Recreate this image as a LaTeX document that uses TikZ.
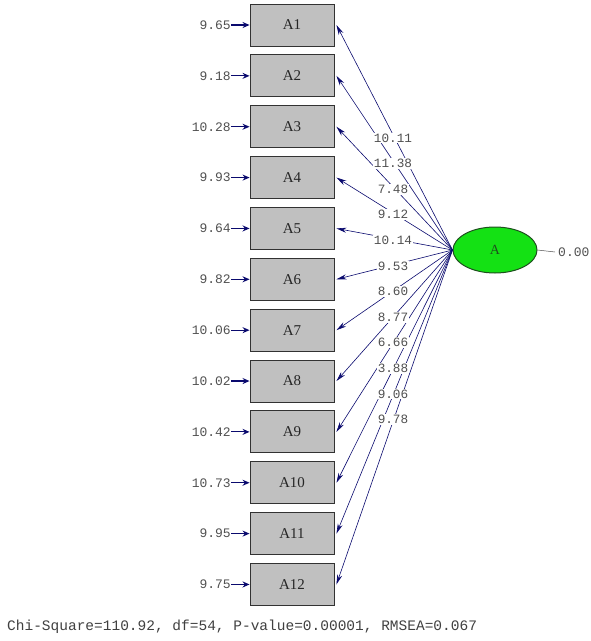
\documentclass[tikz,border=0pt]{standalone}
\usepackage{fontspec}
\setmainfont{Liberation Serif}
\newfontfamily\monofont{Liberation Mono}
\usetikzlibrary{shapes.geometric,arrows.meta}
\definecolor{boxgray}{RGB}{192,192,192}
\definecolor{boxedge}{RGB}{50,50,50}
\definecolor{navyc}{RGB}{10,10,110}
\definecolor{latgreen}{RGB}{20,225,20}
\definecolor{latedge}{RGB}{30,80,30}
\definecolor{txtgray}{RGB}{80,80,80}
\tikzset{
  obs/.style={draw=boxedge, line width=0.9pt, fill=boxgray, minimum width=84pt, minimum height=42pt, inner sep=0pt, font=\fontsize{15}{17}\selectfont, text=black!85},
  lat/.style={ellipse, draw=latedge, line width=1pt, fill=latgreen, minimum width=84pt, minimum height=46pt, inner sep=0pt, font=\fontsize{14}{16}\selectfont, text=latedge},
  load/.style={draw=navyc, line width=0.6pt, -{Stealth[length=10pt,width=5pt]}},
  errarr/.style={draw=navyc, line width=1.2pt, -{Stealth[length=7pt,width=6pt]}},
  lbl/.style={fill=white, inner sep=1pt, font=\monofont\fontsize{12.7}{14}\selectfont, text=txtgray},
  errlbl/.style={anchor=east, inner sep=0pt, font=\monofont\fontsize{13}{14}\selectfont, text=txtgray},
}
\begin{document}
\begin{tikzpicture}[x=1pt,y=-1pt]
\useasboundingbox (0,0) rectangle (591,641);
\node[lat] (A) at (495,250) {A};
\foreach \i/\e in {1/9.65,2/9.18,3/10.28,4/9.93,5/9.64,6/9.82,7/10.06,8/10.02,9/10.42,10/10.73,11/9.95,12/9.75} {
  \pgfmathsetmacro{\yy}{25+(\i-1)*50.86}
  \node[obs] (A\i) at (292,\yy) {A\i};
  \node[errlbl] (e\i) at (231,\yy) {\e};
  \draw[errarr] (e\i.east) -- (A\i.west);
  \draw[load] (A.west) -- ([xshift=2pt]A\i.east);
}
\foreach \i/\v in {1/10.11,2/11.38,3/7.48,4/9.12,5/10.14,6/9.53,7/8.60,8/8.77,9/6.66,10/3.88,11/9.06,12/9.78} {
  \pgfmathsetmacro{\yy}{138+(\i-1)*25.6}
  \node[lbl] (l\i) at (393,\yy) {\v};
}
\node[anchor=west, inner sep=0pt, font=\monofont\fontsize{13}{14}\selectfont, text=txtgray] (v) at (558,252) {0.00};
\draw[txtgray, line width=0.5pt] (A.east) -- ([xshift=-3pt]v.west);
\node[anchor=west, inner sep=0pt, font=\monofont\fontsize{14.5}{16}\selectfont, text=black!75] (chi) at (7,627) {Chi-Square=110.92, df=54, P-value=0.00001, RMSEA=0.067};
\end{tikzpicture}
\end{document}
